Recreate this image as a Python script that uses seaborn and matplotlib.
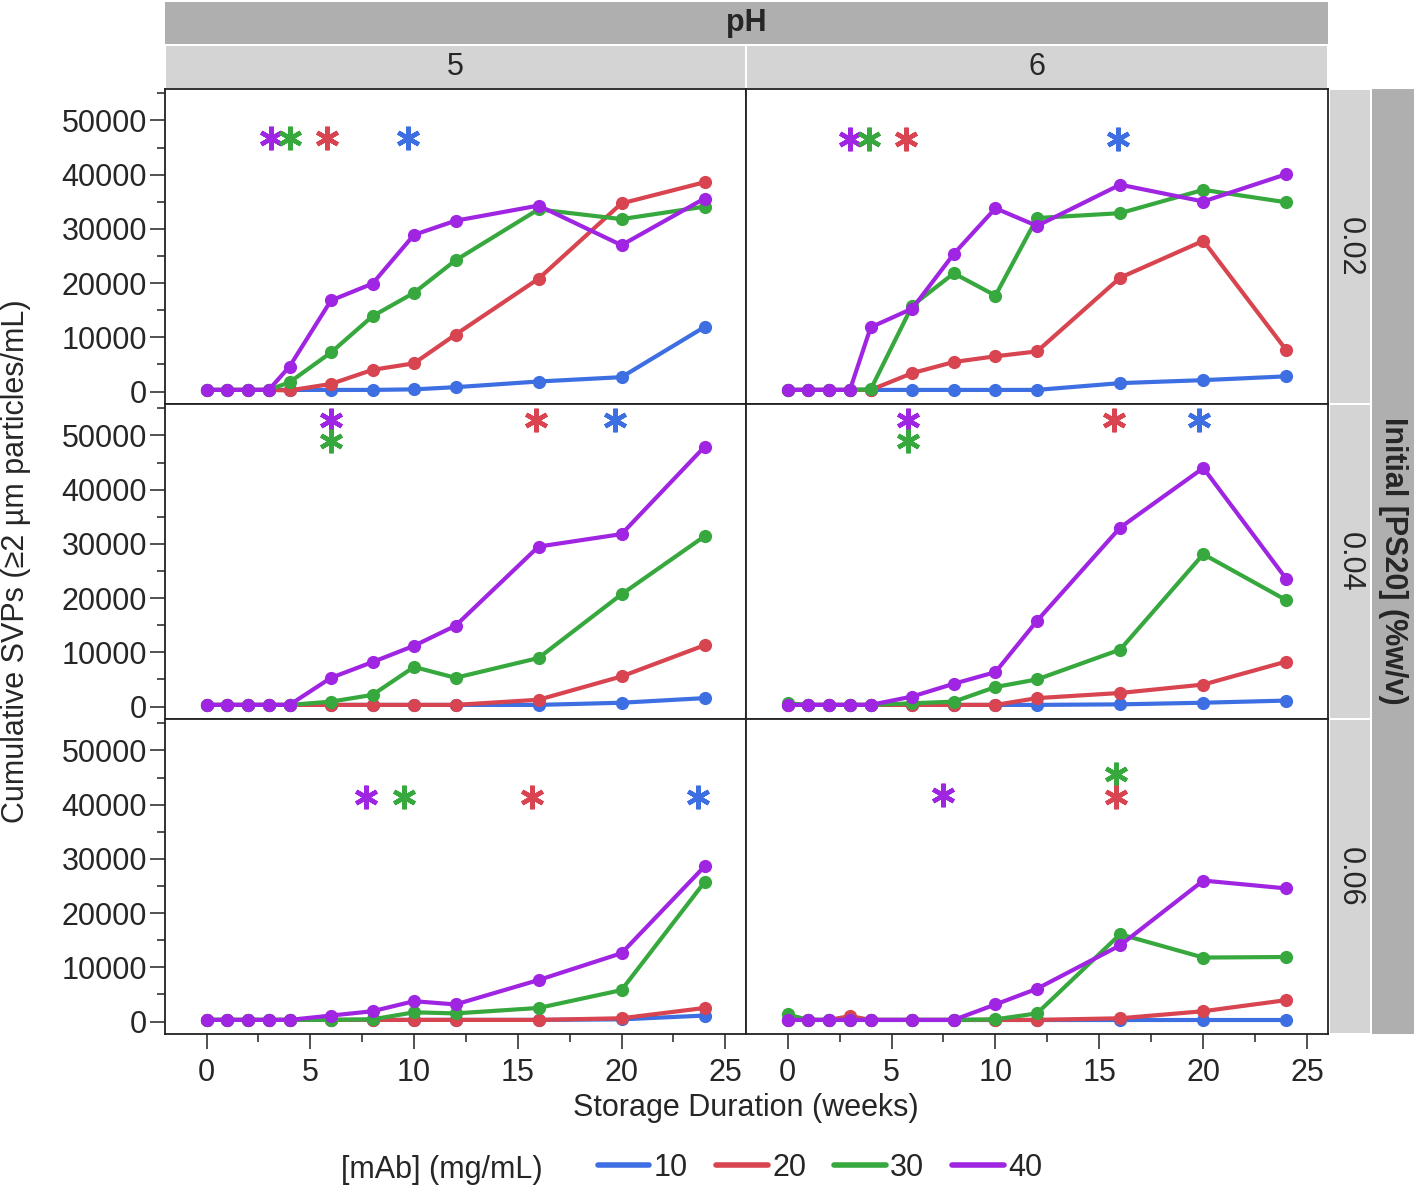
import numpy as np
import pandas as pd
import seaborn as sns
import matplotlib.pyplot as plt
from matplotlib.lines import Line2D
from matplotlib.patches import Rectangle
from matplotlib.ticker import MultipleLocator

sns.set_style("white")
plt.rcParams["font.family"] = ["Liberation Sans", "DejaVu Sans"]

# ------------------------------------------
# Data
# ------------------------------------------
weeks = [0, 1, 2, 3, 4, 6, 8, 10, 12, 16, 20, 24]
mab_levels = [10, 20, 30, 40]
ph_levels = [5, 6]
ps20_levels = [0.02, 0.04, 0.06]
mab_colors = ["#3D6FE2", "#D8444F", "#37A83E", "#A025E2"]

# pH 5, PS20 0.02
ph5_002_10 = [300, 300, 300, 300, 300, 300, 300, 400, 800, 1850, 2650, 11900]
ph5_002_20 = [300, 300, 300, 300, 200, 1400, 4000, 5200, 10500, 20800, 34700, 38600]
ph5_002_30 = [300, 300, 300, 300, 1700, 7200, 13900, 18200, 24200, 33600, 31800, 34100]
ph5_002_40 = [300, 300, 300, 300, 4600, 16800, 19900, 28900, 31500, 34300, 27000, 35600]
# pH 6, PS20 0.02
ph6_002_10 = [300, 300, 300, 300, 300, 300, 300, 300, 300, 1550, 2100, 2800]
ph6_002_20 = [300, 300, 300, 300, 300, 3400, 5450, 6500, 7400, 21000, 27800, 7600]
ph6_002_30 = [300, 300, 300, 300, 400, 15850, 21800, 17700, 32000, 32900, 37200, 34900]
ph6_002_40 = [300, 300, 300, 300, 11850, 15300, 25400, 33800, 30550, 38150, 35050, 40100]
# pH 5, PS20 0.04
ph5_004_10 = [300, 300, 300, 300, 300, 300, 300, 300, 300, 300, 700, 1550]
ph5_004_20 = [300, 300, 300, 300, 300, 300, 300, 300, 300, 1250, 5550, 11300]
ph5_004_30 = [300, 300, 300, 300, 300, 900, 2150, 7300, 5300, 8950, 20700, 31400]
ph5_004_40 = [300, 300, 300, 300, 300, 5300, 8200, 11200, 14900, 29500, 31800, 47900]
# pH 6, PS20 0.04
ph6_004_10 = [300, 300, 300, 300, 300, 300, 300, 300, 300, 400, 700, 1100]
ph6_004_20 = [300, 300, 300, 300, 300, 300, 300, 300, 1550, 2500, 4050, 8300]
ph6_004_30 = [600, 300, 300, 300, 300, 600, 900, 3600, 5000, 10500, 28100, 19600]
ph6_004_40 = [300, 300, 300, 300, 300, 1850, 4200, 6350, 15800, 33000, 44000, 23500]
# pH 5, PS20 0.06
ph5_006_10 = [300, 300, 300, 300, 300, 300, 300, 300, 300, 300, 400, 1100]
ph5_006_20 = [300, 300, 300, 300, 300, 300, 300, 300, 300, 300, 600, 2500]
ph5_006_30 = [300, 300, 300, 300, 300, 300, 400, 1700, 1500, 2500, 5800, 25700]
ph5_006_40 = [300, 300, 300, 300, 300, 1100, 1900, 3750, 3150, 7650, 12600, 28600]
# pH 6, PS20 0.06
ph6_006_10 = [300, 300, 300, 300, 300, 300, 300, 300, 300, 300, 300, 300]
ph6_006_20 = [300, 300, 300, 1000, 300, 300, 300, 300, 300, 600, 1900, 3950]
ph6_006_30 = [1300, 300, 300, 300, 300, 300, 300, 400, 1500, 16100, 11800, 11900]
ph6_006_40 = [300, 300, 300, 300, 300, 300, 300, 3150, 6050, 14050, 26000, 24550]

# significance stars
star_ph = [5, 5, 5, 5, 6, 6, 6, 6, 5, 5, 5, 5, 6, 6, 6, 6, 5, 5, 5, 5, 6, 6, 6]
star_ps20 = [0.02] * 8 + [0.04] * 8 + [0.06] * 7
star_mab = [40, 30, 20, 10, 40, 30, 20, 10, 40, 30, 20, 10, 40, 30, 20, 10,
            40, 30, 20, 10, 40, 30, 20]
star_week = [3.1, 4.0, 5.8, 9.7, 3.0, 3.9, 5.7, 15.9, 6.0, 6.0, 15.9, 19.7,
             5.8, 5.8, 15.7, 19.8, 7.7, 9.5, 15.7, 23.7, 7.5, 15.8, 15.8]
star_level = [46700, 46700, 46700, 46700, 46500, 46500, 46500, 46500,
              52800, 48900, 52800, 52800, 52800, 48900, 52800, 52800,
              41400, 41400, 41400, 41400, 41700, 45700, 41400]

series = {
    (5, 0.02): [ph5_002_10, ph5_002_20, ph5_002_30, ph5_002_40],
    (6, 0.02): [ph6_002_10, ph6_002_20, ph6_002_30, ph6_002_40],
    (5, 0.04): [ph5_004_10, ph5_004_20, ph5_004_30, ph5_004_40],
    (6, 0.04): [ph6_004_10, ph6_004_20, ph6_004_30, ph6_004_40],
    (5, 0.06): [ph5_006_10, ph5_006_20, ph5_006_30, ph5_006_40],
    (6, 0.06): [ph6_006_10, ph6_006_20, ph6_006_30, ph6_006_40],
}
rows = []
for (ph, ps), lists in series.items():
    for mab, vals in zip(mab_levels, lists):
        for w, v in zip(weeks, vals):
            rows.append({"ph": ph, "ps20": ps, "mab": mab, "week": w, "svp": v})
df = pd.DataFrame(rows)
stars = pd.DataFrame({"ph": star_ph, "ps20": star_ps20, "mab": star_mab,
                      "week": star_week, "level": star_level})
palette = dict(zip(mab_levels, mab_colors))

# ------------------------------------------
# Layout (pixel boxes)
# ------------------------------------------
W, H = 1416, 1193
fig = plt.figure(figsize=(W / 100, H / 100), dpi=100)
fig.patch.set_facecolor("white")


def box(x0, y0, x1, y1):
    return [x0 / W, 1 - y1 / H, (x1 - x0) / W, (y1 - y0) / H]


def strip(x0, y0, x1, y1, color):
    fig.add_artist(Rectangle((x0 / W, 1 - y1 / H), (x1 - x0) / W, (y1 - y0) / H,
                             transform=fig.transFigure, facecolor=color,
                             edgecolor="none"))


col_x = [(165, 746), (746, 1328)]
row_y = [(89, 404), (404, 719), (719, 1034)]
dark, light = "#AFAFAF", "#D4D4D4"
fs = 22

for i, ps in enumerate(ps20_levels):
    for j, ph in enumerate(ph_levels):
        x0, x1 = col_x[j]
        y0, y1 = row_y[i]
        ax = fig.add_axes(box(x0, y0, x1, y1))
        sub = df[(df.ph == ph) & (df.ps20 == ps)]
        sns.lineplot(data=sub, x="week", y="svp", hue="mab", hue_order=mab_levels,
                     palette=palette, marker="o", markersize=9.5,
                     markeredgewidth=0, linewidth=3, legend=False, ax=ax)
        st = stars[(stars.ph == ph) & (stars.ps20 == ps)]
        for _, r in st.iterrows():
            ax.plot(r.week, r.level, ls="none", marker=(6, 2, 0), ms=17,
                    mew=3.2, color=palette[r.mab])
        ax.set_xlim(-2, 26)
        ax.set_ylim(-2300, 55800)
        ax.xaxis.set_major_locator(MultipleLocator(5))
        ax.xaxis.set_minor_locator(MultipleLocator(2.5))
        ax.yaxis.set_major_locator(MultipleLocator(10000))
        ax.yaxis.set_minor_locator(MultipleLocator(5000))
        ax.set_xlabel("")
        ax.set_ylabel("")
        ax.tick_params(axis="both", which="both", direction="out", labelsize=fs,
                       color="#333333")
        ax.tick_params(which="major", length=11, width=1.2)
        ax.tick_params(which="minor", length=6, width=1.2)
        if j == 0:
            ax.tick_params(axis="y", which="both", left=True, pad=2)
        else:
            ax.tick_params(axis="y", which="both", left=False, labelleft=False)
        if i == 2:
            ax.tick_params(axis="x", which="both", bottom=True, pad=6)
        else:
            ax.tick_params(axis="x", which="both", bottom=False, labelbottom=False)
        for sp in ax.spines.values():
            sp.set_color("#222222")
            sp.set_linewidth(1.3)

# strips
strip(165, 2, 1328, 44, dark)
fig.text((165 + 1328) / 2 / W, 1 - 23 / H, "pH", ha="center", va="center",
         fontsize=fs, fontweight="bold")
for j, ph in enumerate(ph_levels):
    x0, x1 = col_x[j]
    strip(x0 + 1, 46, x1 - 1, 88, light)
    fig.text((x0 + x1) / 2 / W, 1 - 67 / H, str(ph), ha="center", va="center",
             fontsize=fs)
for i, ps in enumerate(ps20_levels):
    y0, y1 = row_y[i]
    strip(1330, y0 + 1, 1370, y1 - 1, light)
    fig.text(1350 / W, 1 - (y0 + y1) / 2 / H, f"{ps:.2f}", ha="center",
             va="center", rotation=-90, fontsize=fs)
strip(1372, 89, 1414, 1034, dark)
fig.text(1393 / W, 1 - 561 / H, "Initial [PS20] (%w/v)", ha="center",
         va="center", rotation=-90, fontsize=fs, fontweight="bold")

# axis titles
fig.text(16 / W, 1 - 561 / H, "Cumulative SVPs (≥2 µm particles/mL)",
         ha="center", va="center", rotation=90, fontsize=fs)
fig.text(746 / W, 1 - 1108 / H, "Storage Duration (weeks)", ha="center",
         va="center", fontsize=fs)

# legend
fig.text(442 / W, 1 - 1170 / H, "[mAb] (mg/mL)", ha="center", va="center",
         fontsize=fs)
handles = [Line2D([0], [0], color=c, lw=4) for c in mab_colors]
fig.legend(handles, [str(m) for m in mab_levels], loc="center",
           bbox_to_anchor=(820 / W, 1 - 1168 / H), ncol=4, frameon=False,
           fontsize=fs, handlelength=1.7, handletextpad=0.15,
           columnspacing=0.9)

fig.savefig("out.png", dpi=100, facecolor="white")
